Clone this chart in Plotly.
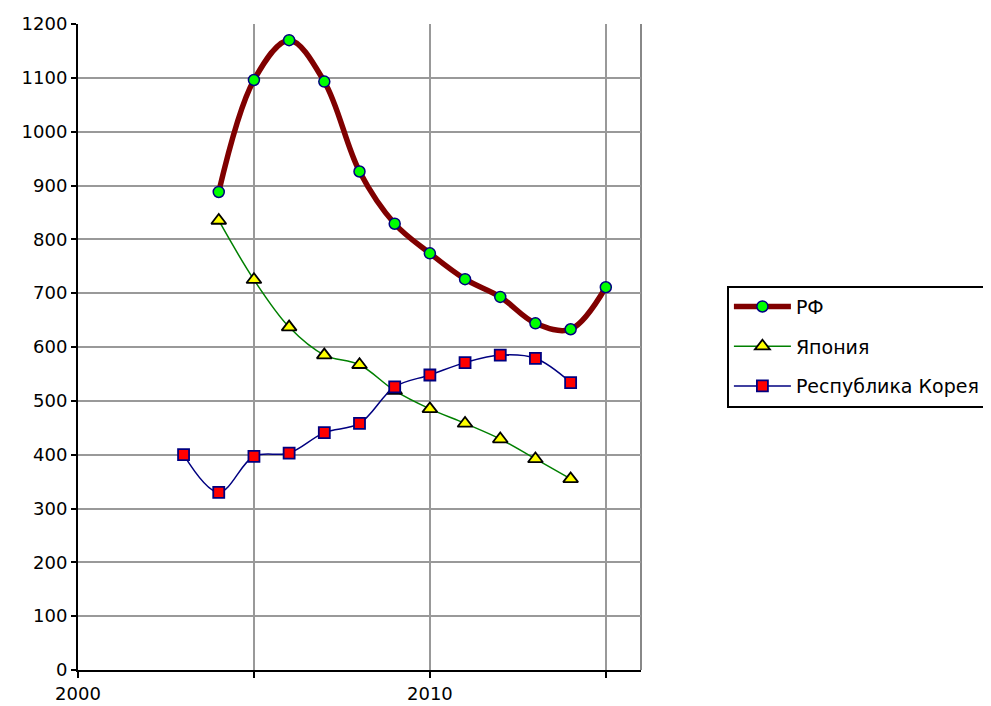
import plotly.graph_objects as go

years_rf = [2004, 2005, 2006, 2007, 2008, 2009, 2010, 2011, 2012, 2013, 2014, 2015]
rf = [888, 1096, 1170, 1093, 926, 829, 774, 726, 693, 644, 633, 711]

years_jp = [2004, 2005, 2006, 2007, 2008, 2009, 2010, 2011, 2012, 2013, 2014]
japan = [835, 725, 637, 585, 567, 519, 485, 458, 429, 392, 355]

years_kr = [2003, 2004, 2005, 2006, 2007, 2008, 2009, 2010, 2011, 2012, 2013, 2014]
korea = [400, 330, 397, 403, 441, 458, 526, 548, 571, 585, 579, 534]

x_tickvals = [2000, 2005, 2010, 2015]
x_ticktext = ["2000", "", "2010", ""]

names = ["РФ", "Япония", "Республика Корея"]

FONT = "DejaVu Sans, Arial, sans-serif"

fig = go.Figure()
fig.add_trace(go.Scatter(
    x=years_rf, y=rf, name=names[0], mode="lines+markers", legendgroup="a",
    line=dict(color="#800000", width=5.5, shape="spline", smoothing=1),
    marker=dict(symbol="circle", size=11, color="#00FF00",
                line=dict(color="#000080", width=1.5)),
))
fig.add_trace(go.Scatter(
    x=years_jp, y=japan, name=names[1], mode="lines+markers", legendgroup="b",
    line=dict(color="#008000", width=1.5, shape="spline", smoothing=1),
    marker=dict(symbol="triangle-up", size=13, color="#FFFF00",
                line=dict(color="#000000", width=1.8)),
))
fig.add_trace(go.Scatter(
    x=years_kr, y=korea, name=names[2], mode="lines+markers", legendgroup="c",
    line=dict(color="#000080", width=1.5, shape="spline", smoothing=1),
    marker=dict(symbol="square", size=11, color="#FF0000",
                line=dict(color="#000080", width=1.8)),
))

fig.update_layout(
    width=991, height=706,
    margin=dict(l=69.5, r=358, t=15.5, b=43.5, autoexpand=False),
    paper_bgcolor="white", plot_bgcolor="white",
    font=dict(family=FONT, size=18, color="black"),
    showlegend=True,
    legend=dict(
        x=1.1526, y=0.595, xanchor="left", yanchor="top",
        bordercolor="black", borderwidth=2,
        font=dict(family=FONT, size=19, color="black"),
        tracegroupgap=12, itemwidth=57,
    ),
    xaxis=dict(
        range=[2000, 2016], tickvals=x_tickvals, ticktext=x_ticktext,
        showgrid=True, gridcolor="#999999", gridwidth=1.5,
        showline=True, linecolor="black", linewidth=2,
        ticks="outside", ticklen=6, tickcolor="black", tickwidth=1.5,
        zeroline=False, tickfont=dict(size=18), automargin=False,
    ),
    yaxis=dict(
        range=[0, 1200], dtick=100,
        showgrid=True, gridcolor="#999999", gridwidth=1.5,
        showline=True, linecolor="black", linewidth=2,
        ticks="outside", ticklen=5, tickcolor="black", tickwidth=1.5,
        zeroline=False, tickfont=dict(size=18), automargin=False,
    ),
    shapes=[
        dict(type="line", xref="paper", yref="paper", x0=1, x1=1, y0=0, y1=1,
             line=dict(color="#888888", width=2), layer="below"),
    ],
)

fig.write_html("out.html")
